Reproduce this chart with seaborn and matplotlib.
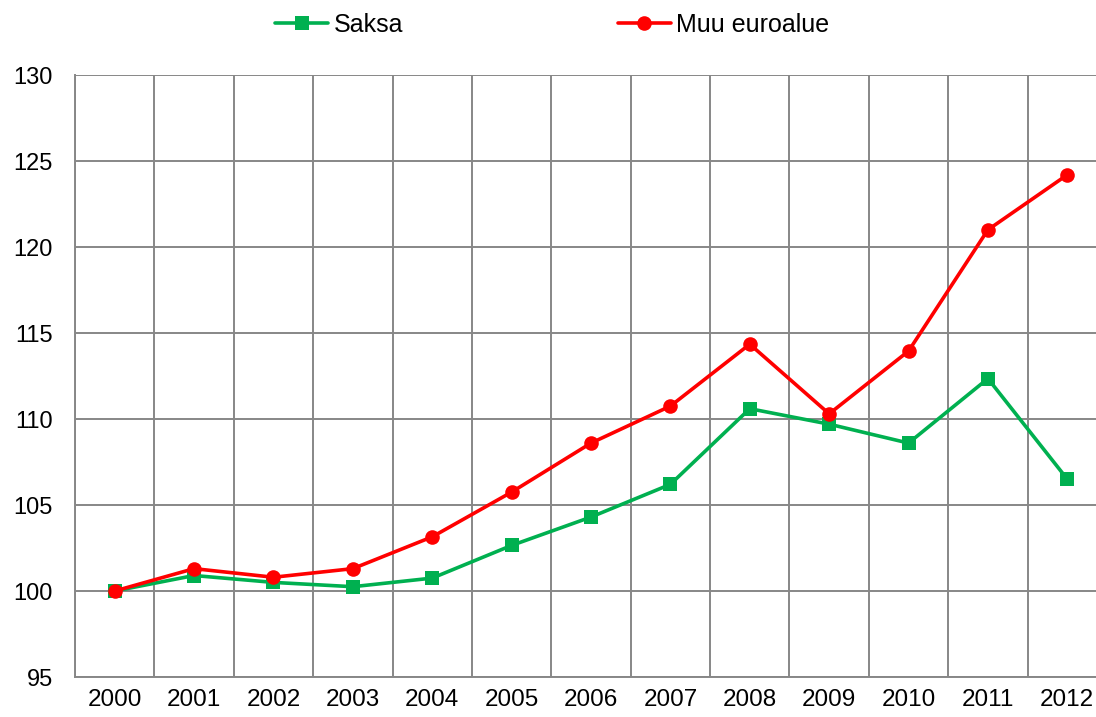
import numpy as np
import pandas as pd
import matplotlib
matplotlib.use("Agg")
import matplotlib.pyplot as plt
import seaborn as sns

# data (index, 2000 = 100)
years = ["2000", "2001", "2002", "2003", "2004", "2005", "2006",
         "2007", "2008", "2009", "2010", "2011", "2012"]
saksa = [100.0, 100.9, 100.5, 100.25, 100.75, 102.65, 104.3,
         106.2, 110.6, 109.7, 108.6, 112.35, 106.5]
muu_euroalue = [100.0, 101.3, 100.8, 101.3, 103.15, 105.75, 108.6,
                110.75, 114.35, 110.3, 113.95, 121.0, 124.2]
series_names = ["Saksa", "Muu euroalue"]
y_ticks = [95, 100, 105, 110, 115, 120, 125, 130]

df = pd.DataFrame({
    "year": years * 2,
    "value": saksa + muu_euroalue,
    "series": [series_names[0]] * len(years) + [series_names[1]] * len(years),
})

sns.set_style("white")
plt.rcParams['font.family'] = ['Liberation Sans', 'DejaVu Sans']
plt.rcParams['text.color'] = 'black'

fig = plt.figure(figsize=(10.96, 7.17), dpi=100)
# plot area runs past the right edge, as in the reference crop
ax = fig.add_axes([75 / 1096, 40 / 717, 1032 / 1096, 602 / 717])

palette = {"Saksa": "#00B050", "Muu euroalue": "#FF0000"}
markers = {"Saksa": "s", "Muu euroalue": "o"}

sns.lineplot(data=df, x="year", y="value", hue="series", style="series",
             palette=palette, markers=markers, dashes=False,
             linewidth=2.6, markersize=10.5, markeredgewidth=0, ax=ax)

ax.set_ylim(95, 130)
ax.set_yticks(y_ticks)
ax.set_xlim(-0.5, len(years) - 0.5)
ax.set_xticks(np.arange(len(years)))
ax.set_xticklabels(years)
ax.set_xticks(np.arange(len(years) + 1) - 0.5, minor=True)

grid_col = "#878787"
ax.grid(True, axis="y", which="major", color=grid_col, linewidth=1.4)
ax.grid(True, axis="x", which="minor", color=grid_col, linewidth=1.4)
ax.grid(False, axis="x", which="major")
ax.tick_params(axis="x", which="major", length=0, labelsize=17.5, pad=9,
               labelcolor="black")
ax.tick_params(axis="x", which="minor", length=7, width=1.4, color=grid_col)
ax.tick_params(axis="y", which="major", length=7, width=1.4, color=grid_col,
               labelsize=17, pad=9, labelcolor="black")
for s in ["top", "right"]:
    ax.spines[s].set_visible(False)
for s in ["left", "bottom"]:
    ax.spines[s].set_color(grid_col)
    ax.spines[s].set_linewidth(1.4)
ax.set_xlabel("")
ax.set_ylabel("")

handles, labels = ax.get_legend_handles_labels()
ax.legend_.remove()
fig.legend(handles, labels, loc="center", bbox_to_anchor=(0.504, 1 - 25 / 717),
           ncol=2, frameon=False, fontsize=18, handlelength=2.1,
           handletextpad=0.23, columnspacing=8.6, labelcolor="black")

fig.savefig("out.png", dpi=100)
